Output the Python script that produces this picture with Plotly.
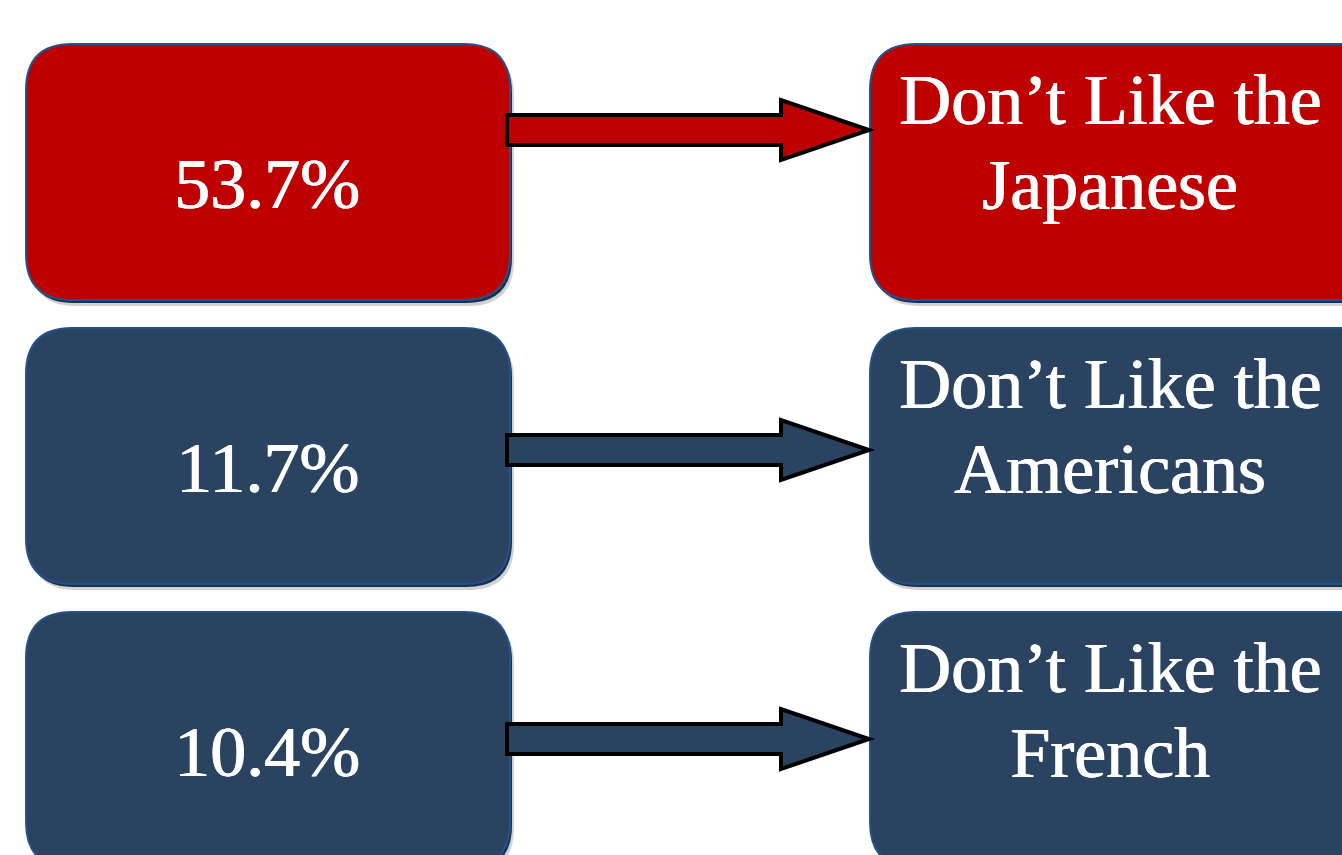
import plotly.graph_objects as go

# ---- data ----
percent_values = [53.7, 11.7, 10.4]
group_labels = ["Japanese", "Americans", "French"]
label_prefix = "Don’t Like the"
box_colors = ["#BE0000", "#2A4361", "#2A4361"]

# ---- layout constants (pixels in a 1342x855 canvas) ----
W, H = 1342, 855
row_tops = [44, 328, 612]
box_h = 256
left_x = (26, 510)
right_x = (870, 1400)
radius = 46
arrow_tip_y = [130, 450, 739]
FONT = "Liberation Serif"
FS = 72
TXT_SHADOW = "0.7px 0 0 white, -0.3px 0 0 white"


def rounded_rect(x0, y0, x1, y1, r):
    return (f"M {x0+r},{y0} L {x1-r},{y0} Q {x1},{y0} {x1},{y0+r} "
            f"L {x1},{y1-r} Q {x1},{y1} {x1-r},{y1} L {x0+r},{y1} "
            f"Q {x0},{y1} {x0},{y1-r} L {x0},{y0+r} Q {x0},{y0} {x0+r},{y0} Z")


def arrow_path(x_start, x_neck, x_tip, yc, shaft_half, head_half):
    return (f"M {x_start},{yc-shaft_half} L {x_neck},{yc-shaft_half} "
            f"L {x_neck},{yc-head_half} L {x_tip},{yc} L {x_neck},{yc+head_half} "
            f"L {x_neck},{yc+shaft_half} L {x_start},{yc+shaft_half} Z")


def txt_font():
    return dict(family=FONT, size=FS, color="white", shadow=TXT_SHADOW)


shapes = []
annotations = []

for i, (val, lab, col) in enumerate(zip(percent_values, group_labels, box_colors)):
    y0 = row_tops[i]
    y1 = y0 + box_h
    for (bx0, bx1) in (left_x, right_x):
        # soft shadow
        shapes.append(dict(type="path", xref="x", yref="y", layer="below",
                           path=rounded_rect(bx0 + 4, y0 + 6, bx1 + 4, y1 + 6, radius),
                           fillcolor="rgba(0,0,0,0.18)", line=dict(width=0)))
        shapes.append(dict(type="path", xref="x", yref="y", layer="below",
                           path=rounded_rect(bx0 + 2, y0 + 3, bx1 + 2, y1 + 3, radius),
                           fillcolor="#17304F", line=dict(width=0)))
        # box
        shapes.append(dict(type="path", xref="x", yref="y", layer="below",
                           path=rounded_rect(bx0, y0, bx1, y1, radius),
                           fillcolor=col, line=dict(color="#24538A", width=2)))
    # arrow
    shapes.append(dict(type="path", xref="x", yref="y", layer="above",
                       path=arrow_path(507, 781, 869, arrow_tip_y[i], 15, 30),
                       fillcolor=col, line=dict(color="black", width=4)))

    # percentage text
    annotations.append(dict(x=267, y=y0 + 140, xref="x", yref="y",
                            text=f"{val:.1f}%", showarrow=False,
                            xanchor="center", yanchor="middle", font=txt_font()))
    # label text (two lines)
    annotations.append(dict(x=1110, y=y0 + 56, xref="x", yref="y",
                            text=label_prefix, showarrow=False,
                            xanchor="center", yanchor="middle", font=txt_font()))
    annotations.append(dict(x=1110, y=y0 + 141, xref="x", yref="y",
                            text=lab, showarrow=False,
                            xanchor="center", yanchor="middle", font=txt_font()))

fig = go.Figure()
fig.add_trace(go.Scatter(x=[0, W], y=[0, H], mode="markers",
                         marker=dict(opacity=0), hoverinfo="skip", showlegend=False))
fig.update_layout(
    width=W, height=H,
    margin=dict(l=0, r=0, t=0, b=0),
    paper_bgcolor="white", plot_bgcolor="white",
    xaxis=dict(range=[0, W], visible=False, fixedrange=True),
    yaxis=dict(range=[H, 0], visible=False, fixedrange=True),
    shapes=shapes, annotations=annotations,
    showlegend=False,
)
fig.write_html("out.html", config={"displayModeBar": False})
